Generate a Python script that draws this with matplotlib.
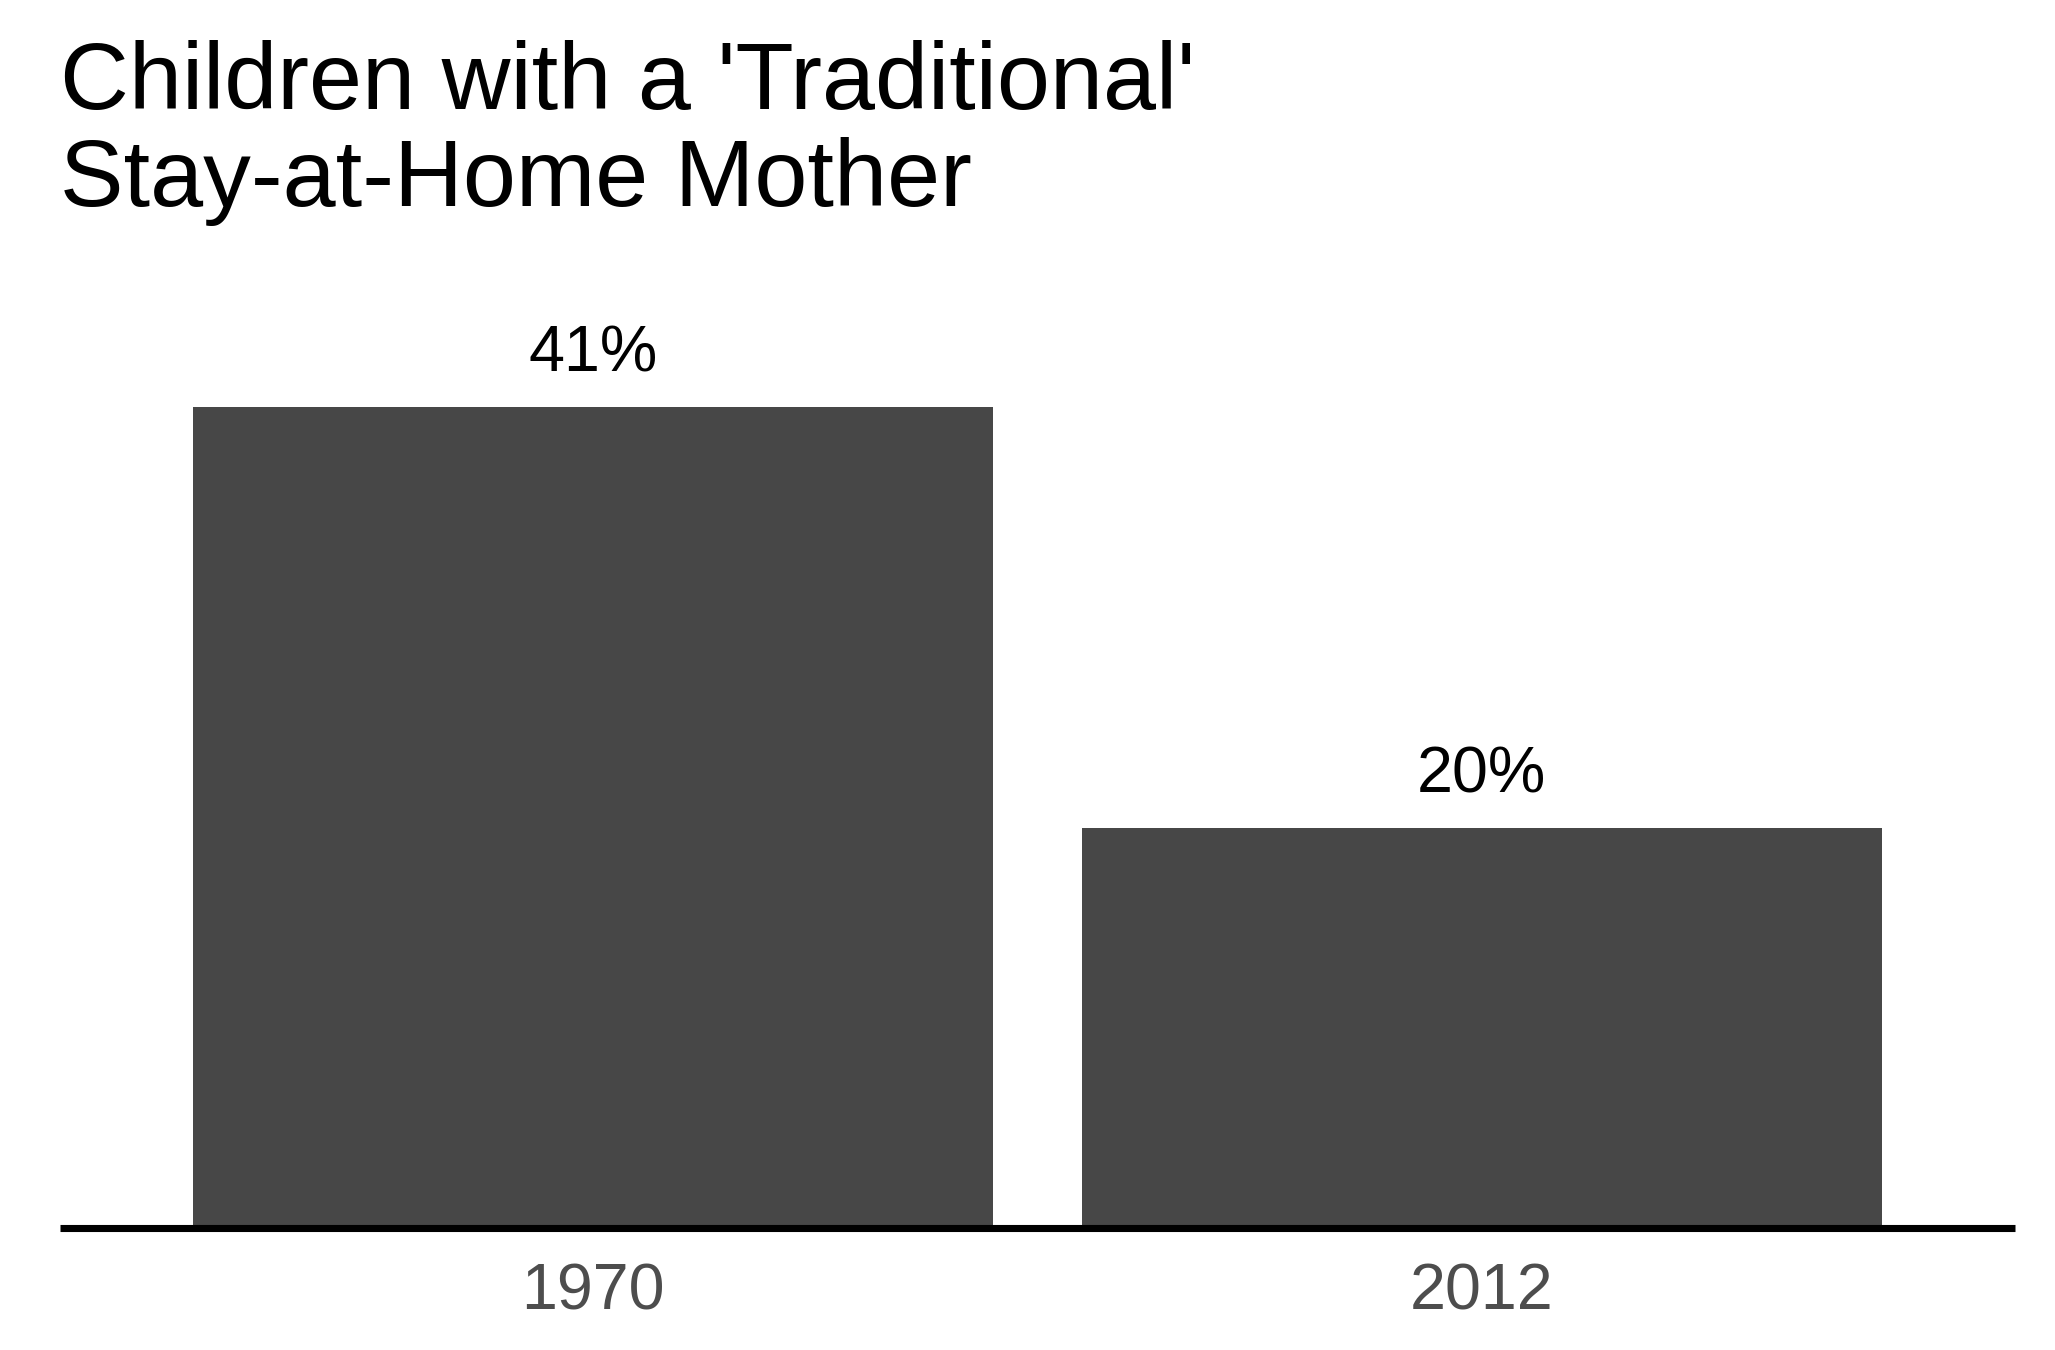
import matplotlib.pyplot as plt

# data
years = ["1970", "2012"]
shares = [41, 20]
title = "Children with a 'Traditional'\nStay-at-Home Mother"

plt.rcParams["font.family"] = ["Liberation Sans", "DejaVu Sans"]

W, H, DPI = 2055, 1350, 150
fig = plt.figure(figsize=(W / DPI, H / DPI), dpi=DPI)

# panel placement in pixels
left_px, right_px = 60, 2015
bottom_px, top_px = 1228, 250
ax = fig.add_axes([left_px / W, 1 - bottom_px / H, (right_px - left_px) / W, (bottom_px - top_px) / H])

x = range(len(years))
ax.bar(x, shares, width=0.9, color="#474747", zorder=1)
for xi, v in zip(x, shares):
    ax.annotate(f"{v}%", (xi, v), xytext=(0, 17), textcoords="offset points",
                ha="center", va="baseline", fontsize=31, color="black")

ax.set_xlim(-0.6, len(years) - 1 + 0.6)
ax.set_ylim(0, (bottom_px - top_px) / 20.02)
ax.set_xticks(list(x))
ax.set_xticklabels(years, fontsize=31, color="#4d4d4d")
ax.set_yticks([])
ax.tick_params(axis="x", length=0, pad=16.5)
for side in ["left", "right", "top"]:
    ax.spines[side].set_visible(False)
ax.spines["bottom"].set_linewidth(3.4)
ax.spines["bottom"].set_color("black")
ax.spines["bottom"].set_capstyle("butt")
ax.spines["bottom"].set_zorder(3)

fig.text(60 / W, 1 - 40 / H, title, ha="left", va="top", fontsize=45.8,
         color="black", linespacing=1.11)

fig.savefig("out.png", dpi=DPI)
